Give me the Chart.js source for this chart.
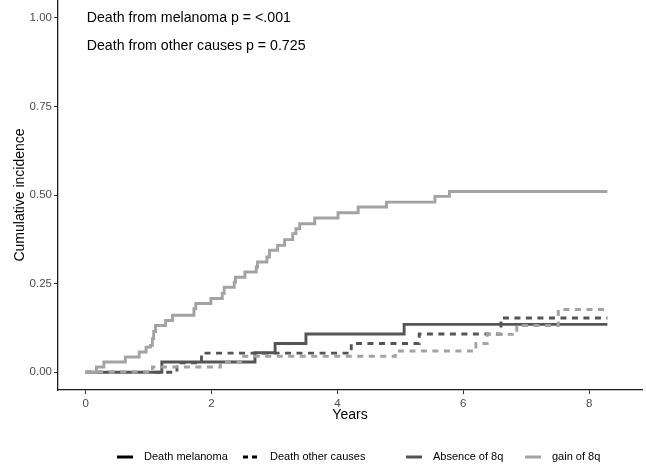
<!DOCTYPE html>
<html>
<head>
<meta charset="utf-8">
<script src="https://cdn.jsdelivr.net/npm/chart.js@4/dist/chart.umd.min.js"></script>
<style>
  html, body { margin: 0; padding: 0; background: #fff; }
  #wrap { width: 646px; height: 468px; }
</style>
</head>
<body>
<div id="wrap"><canvas id="cifChart" width="646" height="468"></canvas></div>
<script>
// Cumulative incidence step curves (years, incidence)
const absenceMelanomaYears = [0, 1.21, 2.69, 3.01, 3.50, 5.06, 8.29];
const absenceMelanomaCif   = [0, 0.029, 0.055, 0.081, 0.108, 0.135, 0.135];

const absenceOtherYears = [0, 1.45, 1.84, 4.22, 5.30, 6.60, 8.29];
const absenceOtherCif   = [0, 0.027, 0.054, 0.081, 0.108, 0.153, 0.153];

const gainMelanomaYears = [0, 0.17, 0.29, 0.63, 0.85, 0.96, 1.03, 1.06, 1.08, 1.11, 1.27, 1.38,
    1.72, 1.75, 1.99, 2.17, 2.20, 2.36, 2.38, 2.53, 2.71, 2.73, 2.88, 2.92, 3.05, 3.16, 3.29,
    3.34, 3.40, 3.64, 4.01, 4.33, 4.78, 5.55, 5.78, 8.29];
const gainMelanomaCif = [0, 0.015, 0.029, 0.043, 0.057, 0.071, 0.076, 0.095, 0.115, 0.132, 0.146, 0.161,
    0.179, 0.194, 0.208, 0.222, 0.240, 0.254, 0.268, 0.283, 0.297, 0.311, 0.325, 0.344, 0.358, 0.374, 0.391,
    0.405, 0.419, 0.435, 0.450, 0.466, 0.480, 0.496, 0.510, 0.510];

const gainOtherYears = [0, 1.06, 2.14, 2.46, 4.92, 6.20, 6.38, 6.85, 7.51, 8.29];
const gainOtherCif   = [0, 0.015, 0.029, 0.045, 0.060, 0.081, 0.107, 0.132, 0.177, 0.177];

const xTickValues = [0, 2, 4, 6, 8];
const yTickValues = [0, 0.25, 0.5, 0.75, 1];

const pValueNotes = ['Death from melanoma p = <.001', 'Death from other causes p = 0.725'];
const legendLabels = ['Death melanoma', 'Death other causes', 'Absence of 8q', 'gain of 8q'];

const DARK = '#555555';
const LIGHT = '#a3a3a3';
const DASH = [6, 5.5];
const FONT = '"Liberation Sans", Arial, sans-serif';

function toPoints(xs, ys) {
    return xs.map((x, i) => ({ x: x, y: ys[i] }));
}

// p-value notes in the upper left of the panel
const notesPlugin = {
    id: 'pNotes',
    afterDatasetsDraw(chart) {
        const ctx = chart.ctx;
        const x = chart.scales.x.getPixelForValue(0);
        const y0 = chart.scales.y.getPixelForValue(1);
        ctx.save();
        ctx.fillStyle = '#000';
        ctx.font = '14.2px ' + FONT;
        ctx.textAlign = 'left';
        ctx.textBaseline = 'middle';
        pValueNotes.forEach((t, i) => ctx.fillText(t, x + 1, y0 + i * 28));
        ctx.restore();
    }
};

// bottom legend: line type keys then colour keys
const keyLegend = {
    id: 'keyLegend',
    afterDraw(chart) {
        const ctx = chart.ctx;
        const y = 457;
        const keys = [
            { x: 117, color: '#000', dash: [] },
            { x: 243, color: '#000', dash: [5, 4] },
            { x: 406, color: DARK, dash: [] },
            { x: 525, color: LIGHT, dash: [] }
        ];
        ctx.save();
        ctx.font = '11px ' + FONT;
        ctx.textBaseline = 'middle';
        ctx.fillStyle = '#000';
        keys.forEach((k, i) => {
            ctx.beginPath();
            ctx.setLineDash(k.dash);
            ctx.lineWidth = 3;
            ctx.strokeStyle = k.color;
            ctx.moveTo(k.x, y);
            ctx.lineTo(k.x + 16, y);
            ctx.stroke();
            ctx.setLineDash([]);
            ctx.fillText(legendLabels[i], k.x + 27, y);
        });
        ctx.restore();
    }
};

const ctx = document.getElementById('cifChart').getContext('2d');
new Chart(ctx, {
    type: 'line',
    data: {
        // first dataset is drawn on top
        datasets: [
            { label: 'gain of 8q - Death other causes', data: toPoints(gainOtherYears, gainOtherCif),
              borderColor: LIGHT, borderDash: DASH },
            { label: 'gain of 8q - Death melanoma', data: toPoints(gainMelanomaYears, gainMelanomaCif),
              borderColor: LIGHT },
            { label: 'Absence of 8q - Death other causes', data: toPoints(absenceOtherYears, absenceOtherCif),
              borderColor: DARK, borderDash: DASH },
            { label: 'Absence of 8q - Death melanoma', data: toPoints(absenceMelanomaYears, absenceMelanomaCif),
              borderColor: DARK }
        ]
    },
    options: {
        responsive: false,
        animation: false,
        devicePixelRatio: 1,
        layout: { padding: { left: 0, right: 4, top: 0, bottom: 26 } },
        elements: {
            line: { stepped: true, borderWidth: 2.9, fill: false, tension: 0 },
            point: { radius: 0, hoverRadius: 0 }
        },
        plugins: {
            legend: { display: false },
            tooltip: { enabled: false }
        },
        scales: {
            x: {
                type: 'linear',
                min: -0.44,
                max: 8.84,
                afterBuildTicks: (scale) => { scale.ticks = xTickValues.map(v => ({ value: v })); },
                afterFit: (scale) => {
                    scale.height = 52;
                    scale.paddingLeft = 0;
                    scale.paddingRight = 0;
                },
                grid: { display: true, drawOnChartArea: false, tickColor: '#333', tickLength: 4, tickWidth: 1 },
                border: { display: true, color: '#1a1a1a', width: 1.3 },
                ticks: { color: '#4d4d4d', font: { family: FONT, size: 11.5 }, padding: 3,
                         maxRotation: 0, callback: (v) => String(v) },
                title: { display: true, text: 'Years', color: '#000',
                         font: { family: FONT, size: 14 }, padding: { top: 0, bottom: 18 } }
            },
            y: {
                type: 'linear',
                min: -0.05,
                max: 1.05,
                afterBuildTicks: (scale) => { scale.ticks = yTickValues.map(v => ({ value: v })); },
                afterFit: (scale) => {
                    scale.width = 58;
                    scale.paddingTop = 0;
                    scale.paddingBottom = 0;
                },
                grid: { display: true, drawOnChartArea: false, tickColor: '#333', tickLength: 4, tickWidth: 1 },
                border: { display: true, color: '#1a1a1a', width: 1.3 },
                ticks: { color: '#4d4d4d', font: { family: FONT, size: 11.5 }, padding: 2,
                         callback: (v) => Number(v).toFixed(2) },
                title: { display: true, text: 'Cumulative incidence', color: '#000',
                         font: { family: FONT, size: 14 }, padding: { top: 12, bottom: 0 } }
            }
        }
    },
    plugins: [notesPlugin, keyLegend]
});
</script>
</body>
</html>
